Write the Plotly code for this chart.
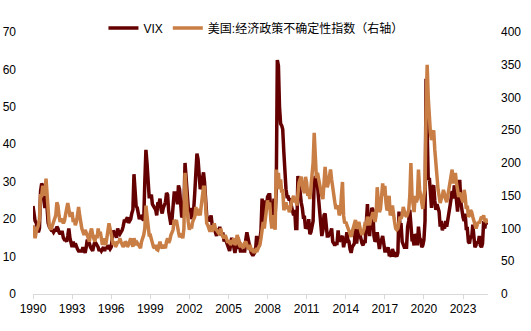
import plotly.graph_objects as go
import pandas as pd

start_month = "1990-01-01"

vix = [
    23.5, 21.0, 19.5, 19.0, 17.5, 16.5, 17.5, 27.5, 29.5, 29.0, 25.0, 23.0,  # 1990
    27.0, 21.0, 19.0, 18.0, 17.5, 17.0, 17.0, 16.5, 17.0, 17.0, 18.0, 17.5,  # 1991
    16.5, 16.0, 16.5, 16.5, 15.0, 14.5, 14.5, 14.0, 15.5, 17.5, 15.0, 13.5,  # 1992
    12.5, 14.0, 12.5, 13.5, 12.5, 12.0, 11.5, 11.5, 11.5, 11.5, 12.5, 11.5,  # 1993
    11.0, 12.5, 14.5, 14.0, 13.5, 12.5, 12.0, 11.5, 13.0, 14.0, 13.5, 13.0,  # 1994
    12.5, 11.5, 12.0, 11.5, 12.0, 12.5, 11.5, 12.5, 12.0, 13.0, 12.5, 12.0,  # 1995
    12.5, 15.5, 17.0, 16.0, 16.0, 15.0, 17.5, 16.5, 16.0, 16.5, 17.0, 18.0,  # 1996
    19.5, 19.5, 20.0, 20.5, 19.0, 19.5, 20.0, 21.5, 22.5, 32.0, 28.0, 23.5,  # 1997
    23.0, 21.5, 20.0, 21.0, 20.5, 21.0, 19.5, 30.0, 38.5, 35.0, 29.0, 26.0,  # 1998
    26.0, 26.5, 24.0, 23.5, 23.0, 22.5, 21.0, 24.5, 24.0, 25.5, 22.5, 21.5,  # 1999
    23.0, 24.0, 24.5, 27.0, 26.5, 22.0, 20.5, 18.5, 20.0, 25.5, 27.0, 27.0,  # 2000
    26.0, 24.0, 29.0, 28.0, 22.5, 20.5, 21.0, 23.0, 35.0, 31.0, 26.0, 23.0,  # 2001
    22.0, 23.0, 20.0, 21.0, 22.5, 27.0, 33.0, 37.5, 36.0, 32.0, 28.0, 29.0,  # 2002
    31.0, 32.5, 30.0, 24.0, 21.0, 20.0, 20.0, 19.5, 21.0, 18.5, 18.0, 17.5,  # 2003
    16.5, 15.5, 17.5, 16.0, 18.0, 16.0, 16.0, 16.0, 14.0, 15.5, 14.0, 13.0,  # 2004
    12.5, 11.5, 13.0, 15.0, 14.0, 11.5, 11.0, 12.5, 12.5, 15.0, 12.5, 11.5,  # 2005
    11.5, 11.5, 11.5, 11.5, 14.5, 16.5, 15.0, 12.5, 12.0, 11.0, 10.5, 10.5,  # 2006
    11.0, 12.0, 15.5, 13.0, 13.0, 14.5, 17.0, 25.5, 21.0, 19.0, 25.0, 23.0,  # 2007
    26.0, 26.5, 26.5, 21.5, 18.5, 22.0, 25.5, 21.0, 27.5, 62.5, 61.0, 50.0,  # 2008
    45.5, 45.0, 44.0, 38.0, 31.0, 28.0, 26.0, 26.0, 25.0, 25.5, 23.5, 21.5,  # 2009
    21.0, 22.5, 17.5, 17.5, 31.5, 30.0, 25.5, 24.5, 23.0, 20.5, 20.5, 17.5,  # 2010
    18.0, 17.5, 20.0, 16.0, 16.5, 18.0, 19.5, 30.0, 31.5, 30.0, 29.0, 25.5,  # 2011
    21.5, 18.0, 15.5, 17.0, 21.0, 21.5, 17.5, 15.5, 15.5, 16.0, 16.5, 17.5,  # 2012
    14.0, 13.5, 13.0, 13.5, 13.5, 17.0, 14.0, 14.5, 15.0, 15.5, 12.5, 14.0,  # 2013
    14.0, 16.5, 14.5, 14.0, 12.0, 11.0, 12.5, 13.0, 13.5, 18.5, 13.5, 16.0,  # 2014
    19.0, 16.0, 14.5, 13.5, 13.0, 14.0, 14.0, 20.0, 24.0, 17.5, 15.5, 19.0,  # 2015
    23.0, 22.5, 15.5, 14.0, 14.5, 16.5, 13.5, 12.0, 14.0, 14.5, 15.5, 12.5,  # 2016
    11.5, 11.5, 11.5, 12.5, 10.5, 10.5, 10.0, 12.0, 10.5, 10.0, 10.5, 10.0,  # 2017
    11.0, 22.0, 18.5, 18.5, 14.0, 13.0, 12.5, 12.5, 12.5, 18.0, 19.5, 22.5,  # 2018
    19.5, 14.5, 14.5, 13.0, 16.0, 15.5, 13.0, 18.0, 15.0, 14.5, 12.5, 13.0,  # 2019
    14.5, 19.5, 57.5, 41.5, 30.5, 31.0, 26.5, 23.0, 28.5, 29.0, 25.0, 22.5,  # 2020
    24.0, 22.5, 22.0, 18.0, 19.5, 17.0, 18.0, 17.5, 19.5, 18.0, 19.5, 21.5,  # 2021
    23.5, 25.5, 27.5, 25.5, 29.0, 28.0, 25.0, 22.0, 27.5, 30.5, 24.5, 22.0,  # 2022
    20.5, 19.5, 21.5, 17.5, 17.5, 14.0, 13.5, 15.5, 15.0, 18.5, 14.5, 12.5,  # 2023
    13.0, 14.0, 13.5, 15.5, 13.0, 12.5, 13.5, 19.5, 17.5, 19.5, 18.5,        # 2024
]

epu = [
    105, 90, 85, 95, 100, 105, 115, 150, 150, 165, 160, 150,    # 1990
    176, 150, 115, 105, 100, 100, 105, 110, 115, 120, 140, 135,  # 1991
    120, 110, 115, 110, 108, 112, 125, 130, 139, 125, 120, 120,  # 1992
    125, 110, 115, 105, 110, 120, 133, 120, 105, 100, 95, 90,    # 1993
    98, 95, 90, 85, 80, 95, 100, 90, 85, 80, 90, 85,             # 1994
    100, 90, 95, 80, 75, 85, 80, 75, 85, 95, 108, 100,           # 1995
    90, 80, 75, 80, 72, 75, 80, 78, 85, 80, 75, 72,              # 1996
    75, 80, 78, 72, 75, 80, 85, 78, 72, 85, 80, 75,              # 1997
    78, 75, 72, 70, 80, 85, 90, 100, 135, 120, 98, 90,           # 1998
    90, 80, 78, 72, 70, 75, 68, 67, 75, 80, 72, 70,              # 1999
    75, 72, 70, 80, 85, 78, 82, 90, 95, 98, 113, 110,            # 2000
    113, 100, 95, 87, 90, 92, 85, 100, 185, 150, 128, 110,       # 2001
    98, 105, 100, 110, 115, 118, 133, 120, 130, 125, 120, 135,   # 2002
    150, 163, 163, 130, 108, 105, 100, 95, 105, 95, 100, 108,    # 2003
    100, 98, 95, 93, 95, 100, 90, 87, 85, 90, 85, 80,            # 2004
    80, 78, 82, 78, 80, 85, 75, 78, 90, 85, 75, 72,              # 2005
    75, 72, 70, 78, 80, 75, 72, 68, 75, 65, 70, 63,              # 2006
    65, 63, 70, 68, 72, 75, 85, 102, 110, 100, 113, 120,         # 2007
    143, 130, 140, 115, 100, 110, 120, 98, 190, 163, 185, 160,   # 2008
    175, 155, 160, 128, 135, 140, 130, 135, 125, 130, 140, 148,  # 2009
    150, 140, 145, 135, 160, 170, 175, 179, 165, 160, 154, 179,  # 2010
    170, 150, 155, 145, 165, 170, 200, 246, 190, 177, 185, 175,  # 2011
    165, 160, 150, 145, 165, 194, 175, 163, 170, 180, 190, 175,  # 2012
    160, 150, 140, 130, 133, 135, 120, 125, 150, 171, 120, 108,  # 2013
    110, 105, 100, 95, 90, 87, 95, 100, 105, 113, 100, 102,      # 2014
    110, 100, 95, 90, 95, 100, 110, 105, 118, 110, 105, 115,     # 2015
    118, 125, 115, 110, 120, 163, 140, 125, 130, 148, 169, 150,  # 2016
    165, 140, 128, 130, 150, 120, 125, 135, 118, 110, 100, 98,   # 2017
    100, 110, 118, 115, 120, 133, 125, 120, 118, 125, 128, 150,  # 2018
    200, 150, 133, 125, 150, 140, 145, 190, 160, 150, 135, 130,  # 2019
    150, 160, 276, 350, 300, 260, 246, 235, 246, 250, 220, 195,  # 2020
    185, 159, 150, 139, 145, 150, 159, 150, 145, 140, 150, 165,  # 2021
    170, 185, 190, 169, 175, 185, 170, 160, 148, 155, 150, 145,  # 2022
    140, 159, 150, 130, 135, 118, 120, 128, 125, 118, 113, 105,  # 2023
    100, 105, 110, 108, 112, 118, 115, 120, 110, 115, 108,       # 2024
]

tick_years = [1990, 1993, 1996, 1999, 2002, 2005, 2008, 2011, 2014, 2017, 2020, 2023]
left_ticks = [0, 10, 20, 30, 40, 50, 60, 70]
right_ticks = [0, 50, 100, 150, 200, 250, 300, 350, 400]

dates = pd.date_range(start_month, periods=len(vix), freq="MS")

VIX_COLOR = "#650000"
EPU_COLOR = "#C97E45"
FONT = "Arial, 'Liberation Sans', 'Noto Sans CJK SC', sans-serif"

fig = go.Figure()
fig.add_trace(go.Scatter(x=dates, y=vix, name="VIX", mode="lines",
                         line=dict(color=VIX_COLOR, width=3.5)))
fig.add_trace(go.Scatter(x=dates, y=epu, name="美国:经济政策不确定性指数（右轴）",
                         mode="lines", yaxis="y2",
                         line=dict(color=EPU_COLOR, width=3.5)))

fig.update_layout(
    width=531, height=331,
    margin=dict(l=33, r=43, t=32, b=37),
    paper_bgcolor="white", plot_bgcolor="white",
    font=dict(family=FONT, size=12, color="#000000"),
    showlegend=True,
    legend=dict(orientation="h", x=0.49, xanchor="center", y=1.015, yanchor="middle",
                font=dict(size=12), bgcolor="rgba(0,0,0,0)", tracegroupgap=0,
                itemwidth=30),
    xaxis=dict(
        type="date", automargin=False,
        range=["1990-01-01", "2024-12-01"],
        tickvals=[f"{y}-01-01" for y in tick_years],
        ticktext=[str(y) for y in tick_years],
        showgrid=False, zeroline=False,
        showline=True, linecolor="#D9D9D9", linewidth=1,
        ticks="outside", ticklen=4, tickcolor="#D9D9D9",
        tickfont=dict(size=12),
    ),
    yaxis=dict(
        range=[0, 70], tickvals=left_ticks, automargin=False,
        showgrid=False, zeroline=False, showline=False,
        tickfont=dict(size=12), ticklabelstandoff=16,
    ),
    yaxis2=dict(
        range=[0, 400], tickvals=right_ticks, overlaying="y", side="right",
        automargin=False,
        showgrid=False, zeroline=False, showline=False,
        tickfont=dict(size=12), ticklabelstandoff=12,
    ),
)

fig.write_html("out.html")
